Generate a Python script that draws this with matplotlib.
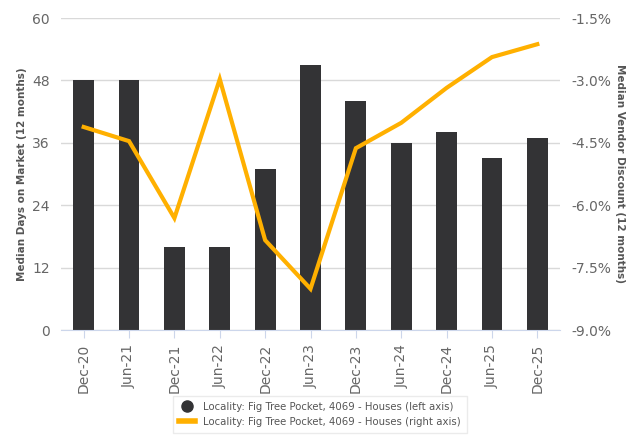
import matplotlib
matplotlib.use("Agg")
import matplotlib.pyplot as plt
from matplotlib.lines import Line2D
from matplotlib.ticker import FuncFormatter

categories = ["Dec-20", "Jun-21", "Dec-21", "Jun-22", "Dec-22", "Jun-23",
              "Dec-23", "Jun-24", "Dec-24", "Jun-25", "Dec-25"]
days_on_market = [48, 48, 16, 16, 31, 51, 44, 36, 38, 33, 37]
vendor_discount = [-4.12, -4.46, -6.31, -2.97, -6.84, -8.01, -4.63, -4.02, -3.18, -2.44, -2.13]
left_ticks = [0, 12, 24, 36, 48, 60]
right_ticks = [-9.0, -7.5, -6.0, -4.5, -3.0, -1.5]
legend_labels = ["Locality: Fig Tree Pocket, 4069 - Houses (left axis)",
                 "Locality: Fig Tree Pocket, 4069 - Houses (right axis)"]

bar_color = "#333335"
line_color = "#FFB000"
tick_color = "#666666"

fig = plt.figure(figsize=(6.38, 4.36), dpi=100)
ax = fig.add_axes([61/638, 1-330/436, (560-61)/638, (330-18)/436])
x = list(range(len(categories)))
ax.bar(x, days_on_market, width=0.46, color=bar_color, zorder=2)
ax.set_ylim(0, 60)
ax.set_yticks(left_ticks)
ax.set_xlim(-0.5, len(categories) - 0.5)
ax.set_xticks(x)
ax.set_xticklabels(categories, rotation=90)
ax.grid(axis="y", color="#d9d9d9", linewidth=1, zorder=0)
for s in ["top", "right", "left"]:
    ax.spines[s].set_visible(False)
ax.spines["bottom"].set_color("#ccd6eb")
ax.tick_params(axis="x", colors="#ccd6eb", labelcolor=tick_color, labelsize=10, length=6, pad=4)
ax.tick_params(axis="y", length=0, labelcolor=tick_color, labelsize=10, pad=8)
ax.set_ylabel("Median Days on Market (12 months)", fontsize=7.5, fontweight="bold", color="#555555", labelpad=4)

ax2 = ax.twinx()
ax2.plot(x, vendor_discount, color=line_color, linewidth=3, zorder=3, solid_joinstyle="miter")
ax2.set_ylim(-9.0, -1.5)
ax2.set_yticks(right_ticks)
ax2.yaxis.set_major_formatter(FuncFormatter(lambda v, p: f"{v:.1f}%"))
for s in ["top", "right", "left", "bottom"]:
    ax2.spines[s].set_visible(False)
ax2.tick_params(axis="y", length=0, labelcolor=tick_color, labelsize=10, pad=8)
ax2.set_ylabel("Median Vendor Discount (12 months)", fontsize=7.5, fontweight="bold", color="#555555",
               rotation=270, labelpad=10)

handles = [Line2D([0], [0], marker="o", color="none", markerfacecolor=bar_color, markeredgecolor=bar_color, markersize=8),
           Line2D([0], [0], color=line_color, linewidth=4)]
leg = fig.legend(handles, legend_labels, loc="lower center", bbox_to_anchor=(320/638, -0.005),
                 fontsize=7.3, frameon=True, fancybox=False, edgecolor="#e6e6e6",
                 handlelength=1.5, labelcolor="#555555", borderpad=0.6)

fig.savefig("out.png", dpi=100)
